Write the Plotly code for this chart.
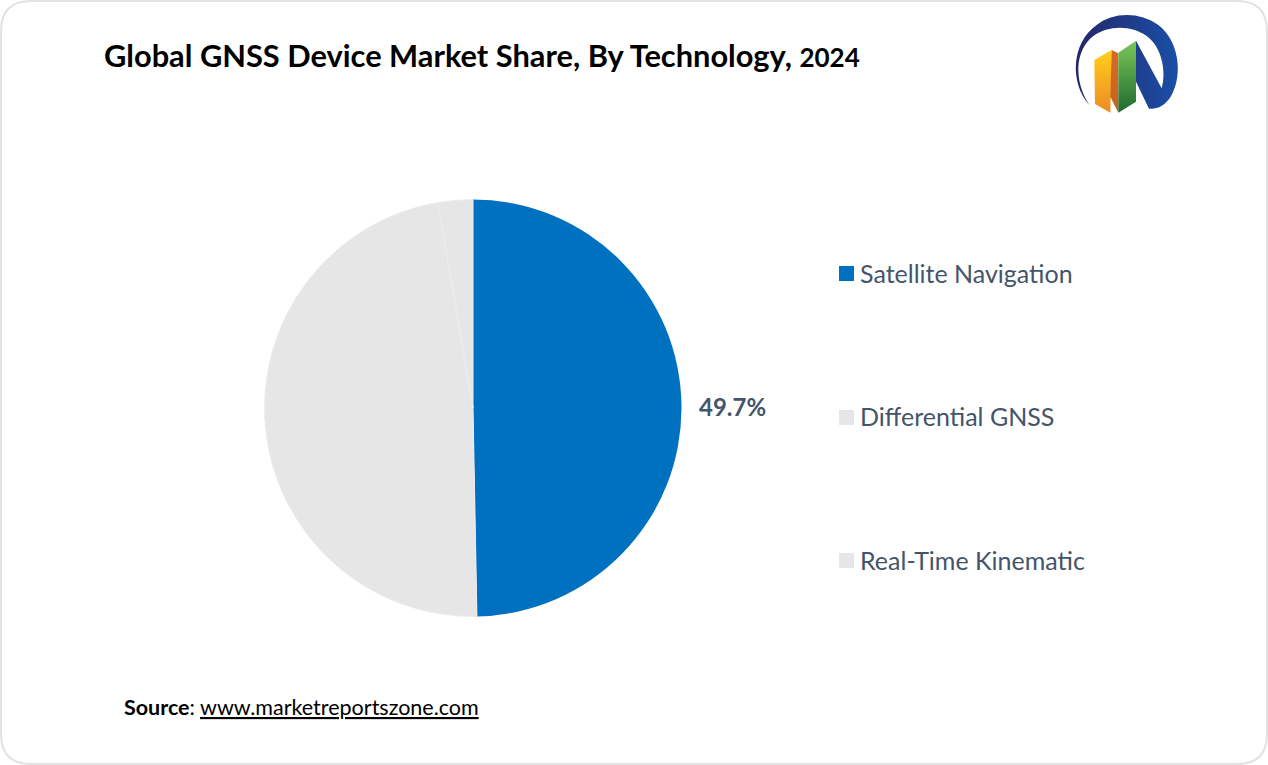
import base64

import plotly.graph_objects as go

WIDTH = 1268
HEIGHT = 765

technologies = ["Satellite Navigation", "Differential GNSS", "Real-Time Kinematic"]
shares = [49.7, 47.6, 2.7]
slice_colors = ["#0070C0", "#E7E6E6", "#E7E6E6"]
share_label = "49.7%"

TEXT_COLOR = "#44546A"
FONT = "Lato"

# logo is only decoration, an svg keeps the gradients
LOGO_SVG = """<svg xmlns="http://www.w3.org/2000/svg" viewBox="0 0 654 390">
<defs>
<linearGradient id="ring" x1="0" x2="1" y1="0" y2="0"><stop offset="0" stop-color="#25266B"/><stop offset="1" stop-color="#1A4FA6"/></linearGradient>
<linearGradient id="yel" x1="0" x2="0" y1="0" y2="1"><stop offset="0" stop-color="#FFD01A"/><stop offset="1" stop-color="#EE8A25"/></linearGradient>
<linearGradient id="ora" x1="0" x2="0" y1="0" y2="1"><stop offset="0" stop-color="#D9682A"/><stop offset="1" stop-color="#C4631E"/></linearGradient>
<linearGradient id="gre" x1="0" x2="0" y1="0" y2="1"><stop offset="0" stop-color="#7CC85A"/><stop offset="1" stop-color="#1F6A2E"/></linearGradient>
</defs>
<path fill="url(#ring)" d="M118,315 C60,250 62,130 140,75 C190,35 270,35 325,75 C385,120 400,220 365,285 C345,320 320,328 297,326 L258,245 L258,122 L335,265 C350,215 335,140 290,108 C245,75 175,75 130,108 C75,150 70,240 118,315 Z"/>
<path fill="url(#yel)" d="M133,180 L185,150 L181,338 L135,312 Z"/>
<path fill="url(#ora)" d="M185,150 L205,160 L205,338 L181,290 Z"/>
<path fill="url(#gre)" d="M205,158 L258,122 L258,305 L205,338 Z"/>
</svg>"""


def xp(px):
    return px / WIDTH


def yp(px):
    return 1 - px / HEIGHT


fig = go.Figure(
    go.Pie(
        labels=technologies,
        values=shares,
        textinfo="none",
        marker=dict(colors=slice_colors, line=dict(color="#EEEDED", width=[0, 1, 1])),
        sort=False,
        direction="clockwise",
        rotation=0,
        automargin=False,
        domain=dict(x=[xp(264.5), xp(681.5)], y=[yp(616.5), yp(199.5)]),
        showlegend=False,
    )
)

# card border
fig.add_shape(
    type="path",
    xref="paper",
    yref="paper",
    path=(
        f"M {xp(31)} {yp(1)} L {xp(1237)} {yp(1)} Q {xp(1267)} {yp(1)} {xp(1267)} {yp(31)} "
        f"L {xp(1267)} {yp(734)} Q {xp(1267)} {yp(764)} {xp(1237)} {yp(764)} "
        f"L {xp(31)} {yp(764)} Q {xp(1)} {yp(764)} {xp(1)} {yp(734)} "
        f"L {xp(1)} {yp(31)} Q {xp(1)} {yp(1)} {xp(31)} {yp(1)} Z"
    ),
    line=dict(color="#E2E2E2", width=2),
    layer="below",
)


def add_text(text, x, y, size, color, anchor="left"):
    fig.add_annotation(
        text=text,
        x=xp(x),
        y=yp(y),
        xref="paper",
        yref="paper",
        xanchor=anchor,
        yanchor="middle",
        showarrow=False,
        font=dict(family=FONT, size=size, color=color),
    )


# legend rows are much further apart than plotly's legend can do
legend_y = [273.5, 417.5, 560.5]
for name, color, y in zip(technologies, slice_colors, legend_y):
    fig.add_shape(
        type="rect",
        xref="paper",
        yref="paper",
        x0=xp(839),
        x1=xp(854),
        y0=yp(y - 7.5),
        y1=yp(y + 7.5),
        fillcolor=color,
        line_width=0,
    )
    add_text(name, 858, y - 1, 25, TEXT_COLOR)

add_text(f"<b>{share_label}</b>", 732.5, 406, 24, TEXT_COLOR, anchor="center")
add_text(
    '<b>Global GNSS Device Market Share, By Technology, <span style="font-size:26px">2024</span></b>',
    102,
    55.5,
    30.8,
    "#000000",
)
add_text("<b>Source</b>: <u>www.marketreportszone.com</u>", 122, 706.5, 21.5, "#000000")

fig.add_layout_image(
    source="data:image/svg+xml;base64," + base64.b64encode(LOGO_SVG.encode()).decode(),
    xref="paper",
    yref="paper",
    x=xp(1050),
    y=yp(0),
    sizex=218 / WIDTH,
    sizey=130 / HEIGHT,
    xanchor="left",
    yanchor="top",
    sizing="stretch",
    layer="above",
)

fig.update_layout(
    width=WIDTH,
    height=HEIGHT,
    margin=dict(l=0, r=0, t=0, b=0),
    paper_bgcolor="#FFFFFF",
    plot_bgcolor="#FFFFFF",
)

fig.write_html(
    "out.html",
    config={"displayModeBar": False},
    post_script="document.body.style.margin='0';document.body.style.overflow='hidden';",
)
